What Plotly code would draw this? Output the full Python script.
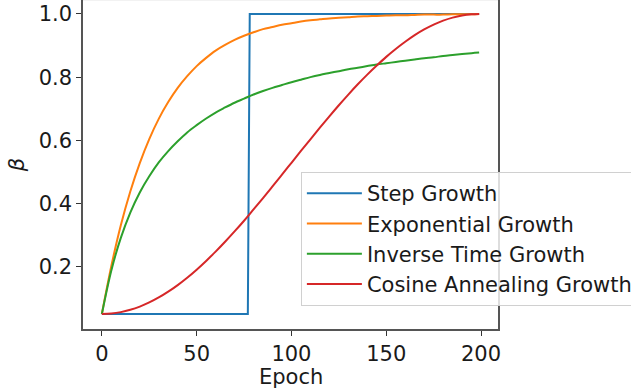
import plotly.graph_objects as go

epochs = [0, 5, 10, 15, 20, 25, 30, 35, 40, 45, 50, 55, 60, 65, 70, 75, 80, 85, 90, 95,
          100, 105, 110, 115, 120, 125, 130, 135, 140, 145, 150, 155, 160, 165, 170, 175,
          180, 185, 190, 195, 199]

step_epochs = [0, 77, 78, 199]
step_beta = [0.05, 0.05, 1.0, 1.0]

exp_beta = [0.050, 0.202, 0.331, 0.438, 0.528, 0.604, 0.668, 0.721, 0.766, 0.803, 0.835,
            0.861, 0.884, 0.902, 0.918, 0.931, 0.942, 0.952, 0.959, 0.966, 0.971, 0.976,
            0.980, 0.983, 0.986, 0.988, 0.990, 0.992, 0.993, 0.994, 0.995, 0.996, 0.996,
            0.997, 0.998, 0.998, 0.998, 0.999, 0.999, 0.999, 1.000]

inv_beta = [0.050, 0.188, 0.291, 0.371, 0.435, 0.486, 0.530, 0.566, 0.597, 0.625, 0.648,
            0.669, 0.688, 0.704, 0.719, 0.732, 0.745, 0.756, 0.766, 0.775, 0.784, 0.792,
            0.800, 0.807, 0.813, 0.819, 0.825, 0.830, 0.835, 0.840, 0.844, 0.848, 0.852,
            0.856, 0.860, 0.863, 0.867, 0.870, 0.873, 0.876, 0.878]

cos_beta = [0.050, 0.0515, 0.0559, 0.0633, 0.0735, 0.0865, 0.1023, 0.1207, 0.1416, 0.1649,
            0.1905, 0.2181, 0.2476, 0.2788, 0.3114, 0.3453, 0.3812, 0.4172, 0.4540, 0.4913,
            0.5288, 0.5662, 0.6033, 0.6400, 0.6760, 0.7111, 0.7449, 0.7774, 0.8081, 0.8369,
            0.8642, 0.8891, 0.9119, 0.9329, 0.9510, 0.9665, 0.9789, 0.9886, 0.9953, 0.9990,
            1.000]

names = ["Step Growth", "Exponential Growth", "Inverse Time Growth", "Cosine Annealing Growth"]
colors = ["#1f77b4", "#ff7f0e", "#2ca02c", "#d62728"]

x_ticks = [0, 50, 100, 150, 200]
y_ticks = [0.2, 0.4, 0.6, 0.8, 1.0]
y_tick_text = ["0.2", "0.4", "0.6", "0.8", "1.0"]

FONT = "DejaVu Sans"
FS = 21

fig = go.Figure()
series = [(step_epochs, step_beta), (epochs, exp_beta), (epochs, inv_beta), (epochs, cos_beta)]
for i, ((xs, ys), name, col) in enumerate(zip(series, names, colors)):
    fig.add_trace(go.Scatter(
        x=xs, y=ys, mode="lines", name=name,
        line=dict(color=col, width=2, shape="linear" if i == 0 else "spline"),
        legendgroup=f"g{i}",
    ))

fig.update_layout(
    width=631, height=392,
    margin=dict(l=83, r=133, t=0, b=63, autoexpand=False),
    plot_bgcolor="white", paper_bgcolor="white",
    font=dict(family=FONT, size=FS, color="#1a1a1a"),
    showlegend=True,
    legend=dict(
        x=0.525, y=0.477, xanchor="left", yanchor="top",
        bgcolor="rgba(255,255,255,0.8)", bordercolor="#d0d0d0", borderwidth=1,
        font=dict(family=FONT, size=FS, color="#1a1a1a"),
        tracegroupgap=0, traceorder="grouped", itemwidth=55,
    ),
    xaxis=dict(
        range=[-9.95, 208.95], tickvals=x_ticks, ticks="outside", ticklen=5, tickwidth=1.3,
        tickcolor="#333", showgrid=False, zeroline=False, showline=True, linecolor="#555",
        linewidth=1.5, mirror=False, automargin=False,
    ),
    yaxis=dict(
        range=[0.0025, 1.0443], tickvals=y_ticks, ticktext=y_tick_text, ticks="outside",
        ticklen=5, tickwidth=1.3, tickcolor="#333", showgrid=False, zeroline=False,
        showline=True, linecolor="#555", linewidth=1.5, mirror=True, automargin=False,
        title=dict(text="<i>β</i>", font=dict(family=FONT, size=FS), standoff=8),
    ),
)

fig.add_annotation(text="Epoch", xref="paper", yref="paper", x=0.5, y=-0.145,
                   xanchor="center", yanchor="middle", showarrow=False,
                   font=dict(family=FONT, size=FS, color="#1a1a1a"))

fig.add_shape(type="line", xref="paper", yref="paper", x0=0, x1=1, y0=1, y1=1,
              line=dict(color="#e6e6e6", width=1))

fig.write_html("out.html", config={"displayModeBar": False},
               post_script="document.body.style.margin='0';")
